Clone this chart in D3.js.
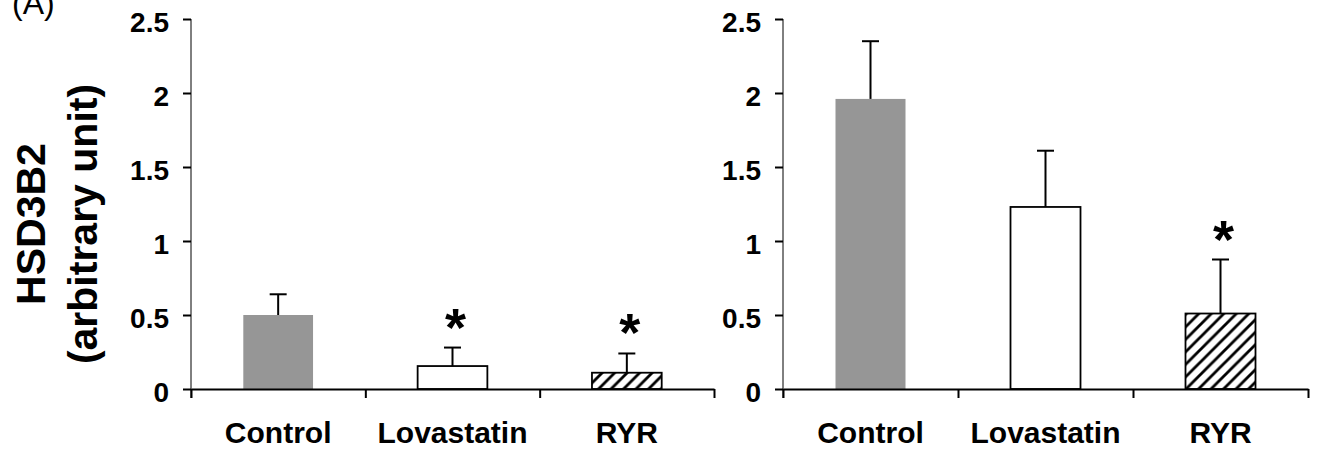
<!DOCTYPE html>
<html>
<head>
<meta charset="utf-8">
<script src="https://cdnjs.cloudflare.com/ajax/libs/d3/7.8.5/d3.min.js"></script>
<style>
  body { margin: 0; background: #fff; }
  svg { display: block; font-family: "Liberation Sans", Arial, sans-serif; }
</style>
</head>
<body>
<div id="chart"></div>
<script>
const categories = ["Control", "Lovastatin", "RYR"];
const yTicks = [0, 0.5, 1, 1.5, 2, 2.5];

// panel A left / right: means and upper error (SD)
const leftMeans = [0.50, 0.155, 0.11];
const leftErrs = [0.14, 0.125, 0.13];
const leftStars = [false, true, true];

const rightMeans = [1.96, 1.23, 0.51];
const rightErrs = [0.39, 0.38, 0.365];
const rightStars = [false, false, true];

const width = 1318;
const height = 455;

const svg = d3.select("#chart")
  .append("svg")
  .attr("width", width)
  .attr("height", height);

// hatch for RYR
svg.append("defs").append("pattern")
  .attr("id", "hatch")
  .attr("patternUnits", "userSpaceOnUse")
  .attr("width", 12.5)
  .attr("height", 12.5)
  .call(p => {
    p.append("rect").attr("width", 12.5).attr("height", 12.5).attr("fill", "#fff");
    p.append("path")
      .attr("d", "M-3,3 L3,-3 M0,12.5 L12.5,0 M9.5,15.5 L15.5,9.5")
      .attr("stroke", "#000")
      .attr("stroke-width", 2.8);
  });

const fills = ["#969696", "#fff", "url(#hatch)"];

const y = d3.scaleLinear().domain([0, 2.5]).range([389, 19]);

function panel(x0, x1, means, errs, stars) {
  const g = svg.append("g");

  const x = d3.scaleBand()
    .domain(categories)
    .range([x0, x1])
    .paddingInner(0.6)
    .paddingOuter(0.3);

  const xb = d3.scaleLinear().domain([0, categories.length]).range([x0, x1]);

  // bars
  g.selectAll("rect.bar")
    .data(categories)
    .join("rect")
    .attr("class", "bar")
    .attr("x", d => x(d))
    .attr("width", x.bandwidth())
    .attr("y", (d, i) => y(means[i]))
    .attr("height", (d, i) => y(0) - y(means[i]))
    .attr("fill", (d, i) => fills[i])
    .attr("stroke", (d, i) => i === 0 ? "none" : "#000")
    .attr("stroke-width", 1.8);

  // error bars (upper only)
  const cx = d => x(d) + x.bandwidth() / 2;
  g.selectAll("line.err")
    .data(categories)
    .join("line")
    .attr("x1", cx).attr("x2", cx)
    .attr("y1", (d, i) => y(means[i]))
    .attr("y2", (d, i) => y(means[i] + errs[i]))
    .attr("stroke", "#000")
    .attr("stroke-width", 2);
  g.selectAll("line.cap")
    .data(categories)
    .join("line")
    .attr("x1", d => cx(d) - 8.5).attr("x2", d => cx(d) + 8.5)
    .attr("y1", (d, i) => y(means[i] + errs[i]))
    .attr("y2", (d, i) => y(means[i] + errs[i]))
    .attr("stroke", "#000")
    .attr("stroke-width", 2);

  // asterisks
  g.selectAll("text.star")
    .data(categories.filter((d, i) => stars[i]))
    .join("text")
    .attr("x", d => cx(d) + 3)
    .attr("y", d => {
      const i = categories.indexOf(d);
      return y(means[i] + errs[i]) - 2;
    })
    .attr("text-anchor", "middle")
    .attr("font-size", 54)
    .attr("font-weight", "bold")
    .text("*");

  // y axis
  const yAxis = g.append("g")
    .attr("transform", `translate(${x0},0)`)
    .call(d3.axisLeft(y).tickValues(yTicks).tickSize(8).tickPadding(14)
      .tickFormat(d => String(d)));
  yAxis.select(".domain").attr("d", `M0,${y(2.5)}V${y(0) + 9}`);
  yAxis.selectAll("line").attr("stroke-width", 2);
  yAxis.selectAll("text")
    .attr("font-size", 28)
    .attr("font-weight", "bold")
    .attr("font-family", "Liberation Sans, Arial, sans-serif")
    .attr("dy", "0.45em");

  // x axis with boundary ticks
  const xAxis = g.append("g")
    .attr("transform", `translate(0,${y(0)})`)
    .call(d3.axisBottom(xb).ticks(categories.length).tickSize(9).tickSizeOuter(0).tickFormat(""));
  xAxis.selectAll("line").attr("stroke-width", 2);
  xAxis.select(".domain").attr("stroke-width", 2);

  g.selectAll("text.cat")
    .data(categories)
    .join("text")
    .attr("class", "cat")
    .attr("x", cx)
    .attr("y", 443)
    .attr("text-anchor", "middle")
    .attr("font-size", 30)
    .attr("font-weight", "bold")
    .text(d => d);
}

panel(191, 714, leftMeans, leftErrs, leftStars);
panel(783, 1308, rightMeans, rightErrs, rightStars);

// y title
const title = svg.append("text")
  .attr("transform", "rotate(-90)")
  .attr("text-anchor", "middle")
  .attr("font-size", 41)
  .attr("font-weight", "bold");
title.append("tspan").attr("x", -224).attr("y", 45).text("HSD3B2");
title.append("tspan").attr("x", -224).attr("y", 97).text("(arbitrary unit)");

svg.append("text")
  .attr("x", 12)
  .attr("y", 14)
  .attr("font-size", 32)
  .text("(A)");
</script>
</body>
</html>
